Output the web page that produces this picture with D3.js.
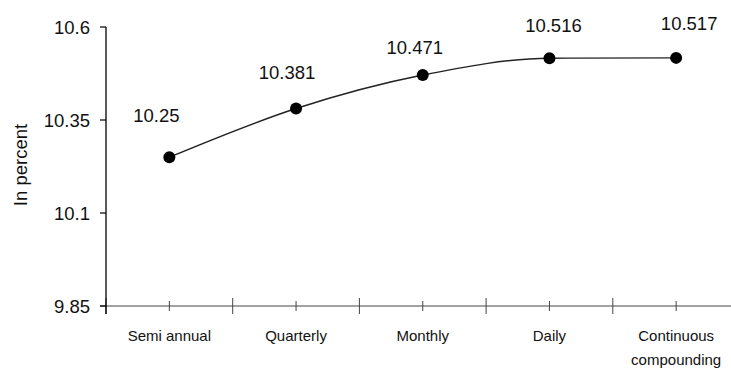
<!DOCTYPE html>
<html>
<head>
<meta charset="utf-8">
<script src="https://cdn.jsdelivr.net/npm/d3@7"></script>
<style>
  html, body { margin: 0; padding: 0; background: #fff; }
  svg { display: block; font-family: "Liberation Sans", Arial, sans-serif; }
</style>
</head>
<body>
<svg id="chart" width="731" height="370"></svg>
<script>
// Effective annual rate of a 10% nominal rate under different compounding frequencies
const categories = [["Semi annual"], ["Quarterly"], ["Monthly"], ["Daily"], ["Continuous", "compounding"]];
const rates = [10.25, 10.381, 10.471, 10.516, 10.517];
const rateLabels = ["10.25", "10.381", "10.471", "10.516", "10.517"];
const yTicks = [9.85, 10.1, 10.35, 10.6];
const yTitle = "In percent";

// label placement relative to each marker (dx, dy of label centre)
const labelNudge = [[-13, -42], [-9, -36], [-8, -28], [4, -33], [13, -35]];

(function () {
  const svg = d3.select("#chart");
  const plotLeft = 106, plotTop = 27, plotBottom = 306, bandW = 126.7;

  const x = d3.scaleBand()
    .domain(d3.range(categories.length))
    .range([plotLeft, plotLeft + bandW * categories.length])
    .paddingInner(0).paddingOuter(0);

  const y = d3.scaleLinear().domain([9.85, 10.6]).range([plotBottom, plotTop]);
  const cx = i => x(i) + x.bandwidth() / 2;

  // x axis line
  svg.append("line")
    .attr("x1", plotLeft - 6).attr("x2", 731)
    .attr("y1", plotBottom).attr("y2", plotBottom)
    .attr("stroke", "#444").attr("stroke-width", 1);

  // band boundary ticks
  const bounds = d3.range(categories.length + 1).map(i => plotLeft + i * x.bandwidth());
  svg.selectAll(".btick").data(bounds).enter().append("line")
    .attr("x1", d => d).attr("x2", d => d)
    .attr("y1", plotBottom - 8).attr("y2", plotBottom + 8)
    .attr("stroke", "#444").attr("stroke-width", 1);

  // centre ticks
  svg.selectAll(".ctick").data(categories).enter().append("line")
    .attr("x1", (d, i) => cx(i)).attr("x2", (d, i) => cx(i))
    .attr("y1", plotBottom - 5).attr("y2", plotBottom + 5)
    .attr("stroke", "#444").attr("stroke-width", 1);

  // category labels
  const catG = svg.selectAll(".cat").data(categories).enter().append("text")
    .attr("text-anchor", "middle")
    .attr("font-size", 15)
    .attr("fill", "#111");
  catG.selectAll("tspan").data((d, i) => d.map(t => ({ t, i }))).enter().append("tspan")
    .attr("x", d => cx(d.i))
    .attr("y", (d, j) => 341 + j * 24)
    .text(d => d.t);

  // y axis
  svg.append("line")
    .attr("x1", plotLeft).attr("x2", plotLeft)
    .attr("y1", plotTop).attr("y2", plotBottom + 8)
    .attr("stroke", "#000").attr("stroke-width", 1.3);

  svg.selectAll(".ytick").data(yTicks).enter().append("line")
    .attr("x1", plotLeft - 6).attr("x2", plotLeft)
    .attr("y1", d => y(d)).attr("y2", d => y(d))
    .attr("stroke", "#000").attr("stroke-width", 1.2);

  svg.selectAll(".ylab").data(yTicks).enter().append("text")
    .attr("x", 90)
    .attr("y", d => y(d))
    .attr("dy", "0.36em")
    .attr("text-anchor", "end")
    .attr("font-size", 18.5)
    .attr("fill", "#111")
    .text(d => String(d));

  svg.append("text")
    .attr("transform", "translate(20,165) rotate(-90)")
    .attr("text-anchor", "middle")
    .attr("dy", "0.36em")
    .attr("font-size", 18.5)
    .attr("fill", "#111")
    .text(yTitle);

  // smoothed line through the rates
  const pts = rates.map((v, i) => [cx(i), y(v)]);
  svg.append("path")
    .attr("d", d3.line().curve(d3.curveMonotoneX)(pts))
    .attr("fill", "none")
    .attr("stroke", "#222")
    .attr("stroke-width", 1.4);

  svg.selectAll(".dot").data(rates).enter().append("circle")
    .attr("cx", (d, i) => cx(i))
    .attr("cy", d => y(d))
    .attr("r", 6)
    .attr("fill", "#000");

  svg.selectAll(".vlab").data(rates).enter().append("text")
    .attr("x", (d, i) => cx(i) + labelNudge[i][0])
    .attr("y", (d, i) => y(d) + labelNudge[i][1])
    .attr("dy", "0.36em")
    .attr("text-anchor", "middle")
    .attr("font-size", 18.5)
    .attr("fill", "#111")
    .text((d, i) => rateLabels[i]);
})();
</script>
</body>
</html>
